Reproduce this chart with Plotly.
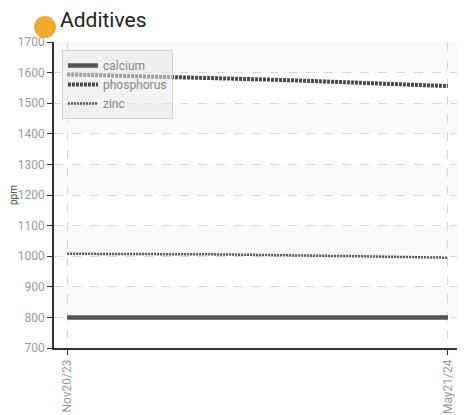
import plotly.graph_objects as go
import pandas as pd

dates = ["2023-11-20", "2023-12-04", "2023-12-18", "2024-01-01", "2024-01-15",
         "2024-01-29", "2024-02-12", "2024-02-26", "2024-03-11", "2024-03-25",
         "2024-04-08", "2024-04-22", "2024-05-06", "2024-05-21"]
calcium = [800, 800, 800, 800, 800, 800, 800, 800, 800, 800, 800, 800, 800, 800]
phosphorus = [1594, 1592, 1590, 1588, 1586, 1583, 1580, 1577, 1574, 1571, 1567, 1564, 1560, 1556]
zinc = [1008, 1008, 1008, 1007, 1007, 1006, 1005, 1003, 1002, 1001, 1000, 998, 997, 995]

y_ticks = [700, 800, 900, 1000, 1100, 1200, 1300, 1400, 1500, 1600, 1700]
x_tickvals = ["2023-11-20", "2024-05-21"]
x_ticktext = ["Nov20/23", "May21/24"]

# page body has an 8px margin, so the figure is offset by 8px
OFF = 8
W, H = 465 - OFF, 415 - OFF
ml, mr, mt, mb = 54 - OFF, 4, 42 - OFF, 67
pw = W - ml - mr
ph = H - mt - mb

fig = go.Figure()
fig.add_trace(go.Scatter(x=dates, y=calcium, name="calcium", mode="lines",
                         line=dict(color="#555555", width=4.5)))
fig.add_trace(go.Scatter(x=dates, y=phosphorus, name="phosphorus", mode="lines",
                         line=dict(color="#4a4a4a", width=4, dash="3px,1px")))
fig.add_trace(go.Scatter(x=dates, y=zinc, name="zinc", mode="lines",
                         line=dict(color="#555555", width=2.5, dash="2px,1px")))

shapes = []
# alternating bands
for i in range(len(y_ticks) - 1):
    if (len(y_ticks) - 2 - i) % 2 == 0:
        shapes.append(dict(type="rect", xref="paper", yref="y", x0=0, x1=1,
                           y0=y_ticks[i], y1=y_ticks[i + 1], fillcolor="#f9f9f9",
                           line=dict(width=0), layer="below"))
# orange circle next to title
cx, cy = 45 - OFF, 27 - OFF
shapes.append(dict(type="circle", xref="paper", yref="paper",
                   xsizemode="pixel", ysizemode="pixel",
                   xanchor=(cx - ml) / pw, yanchor=(H - mb - cy) / ph,
                   x0=-11, x1=11, y0=-11, y1=11,
                   fillcolor="#EFA92F", line=dict(width=0)))

start = pd.Timestamp(dates[0])
end = pd.Timestamp(dates[-1])
pad = pd.Timedelta(days=6.3)

fig.update_layout(
    width=W, height=H,
    margin=dict(l=ml, r=mr, t=mt, b=mb, autoexpand=False),
    paper_bgcolor="white", plot_bgcolor="white",
    font=dict(family="Roboto", size=12, color="#999999"),
    title=dict(text="Additives", x=(60 - OFF) / W, xanchor="left", y=1 - (20 - OFF) / H,
               yanchor="middle", xref="container", yref="container", automargin=False,
               font=dict(family="Roboto", size=21, color="#222222")),
    shapes=shapes,
    showlegend=True,
    legend=dict(x=(62 - 54) / pw, y=(H - mb - (50 - OFF)) / ph, xanchor="left", yanchor="top",
                bgcolor="rgba(232,232,232,0.55)", bordercolor="rgba(205,205,205,0.9)",
                borderwidth=1, font=dict(family="Roboto", size=12, color="#888888"),
                tracegroupgap=0, itemwidth=30),
    xaxis=dict(range=[start - pad, end + pad], tickvals=x_tickvals, ticktext=x_ticktext,
               tickangle=-90, showgrid=True, gridcolor="#d8d8d8", griddash="dash",
               gridwidth=1, showline=True, linecolor="#333333", linewidth=1.5,
               ticks="outside", ticklen=5, tickcolor="#333333", zeroline=False,
               automargin=False,
               tickfont=dict(family="Roboto", size=12, color="#999999")),
    yaxis=dict(range=[700, 1700], tickvals=y_ticks, showgrid=True, gridcolor="#d8d8d8",
               griddash="dash", gridwidth=1, showline=True, linecolor="#333333",
               linewidth=1.5, ticks="outside", ticklen=5, tickcolor="#333333",
               zeroline=False, automargin=False,
               title=dict(text="ppm", font=dict(family="Roboto", size=10, color="#333333"),
                          standoff=8),
               tickfont=dict(family="Roboto", size=12, color="#999999")),
)

fig.write_html("out.html")
